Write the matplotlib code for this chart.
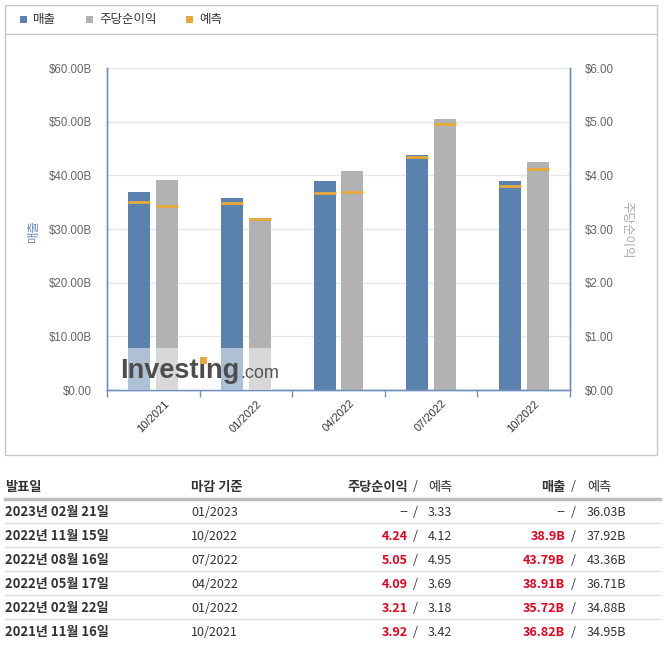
import numpy as np
import matplotlib.pyplot as plt
from matplotlib.lines import Line2D
from matplotlib.patches import Rectangle

plt.rcParams['font.family'] = ['Liberation Sans', 'Noto Sans CJK KR', 'DejaVu Sans']

# chart data
quarters = ['10/2021', '01/2022', '04/2022', '07/2022', '10/2022']
revenue = [36.82, 35.72, 38.91, 43.79, 38.90]      # B$
revenue_fc = [34.95, 34.88, 36.71, 43.36, 37.92]
eps = [3.92, 3.21, 4.09, 5.05, 4.24]
eps_fc = [3.42, 3.18, 3.69, 4.95, 4.12]

# table data
release = ['2023년 02월 21일', '2022년 11월 15일', '2022년 08월 16일',
           '2022년 05월 17일', '2022년 02월 22일', '2021년 11월 16일']
period = ['01/2023', '10/2022', '07/2022', '04/2022', '01/2022', '10/2021']
eps_tbl = ['--', '4.24', '5.05', '4.09', '3.21', '3.92']
eps_fc_tbl = ['3.33', '4.12', '4.95', '3.69', '3.18', '3.42']
rev_tbl = ['--', '38.9B', '43.79B', '38.91B', '35.72B', '36.82B']
rev_fc_tbl = ['36.03B', '37.92B', '43.36B', '36.71B', '34.88B', '34.95B']

BLUE = '#5b82ae'
GRAY = '#b2b2b2'
ORANGE = '#e9a93a'
AXC = '#6f8fbf'
TXT = '#333333'
RED = '#e8001c'

W, H = 664, 649
fig = plt.figure(figsize=(W / 100, H / 100), dpi=100)


def fx(x):
    return x / W


def fy(y):
    return 1 - y / H


def hline(x0, x1, y, color, lw=1.0):
    fig.add_artist(Line2D([fx(x0), fx(x1)], [fy(y), fy(y)], color=color, lw=lw,
                          transform=fig.transFigure))


# chart box
fig.add_artist(Rectangle((fx(5), fy(455)), (657 - 5) / W, (455 - 5) / H, fill=False,
                         edgecolor='#c8c8c8', lw=1, transform=fig.transFigure))
hline(5, 657, 34, '#c8c8c8')

# legend
for x0, c, lab in [(20, BLUE, '매출'), (86, GRAY, '주당순이익'), (186, ORANGE, '예측')]:
    fig.add_artist(Rectangle((fx(x0), fy(23)), 7 / W, 7 / H, color=c, lw=0,
                             transform=fig.transFigure))
    fig.text(fx(x0 + 13), fy(19.5), lab, fontsize=9, color=TXT, va='center', ha='left',
             family=['Noto Sans CJK KR'])

ax = fig.add_axes([fx(107), fy(390), (570 - 107) / W, (390 - 68) / H])
ax2 = ax.twinx()

x = np.arange(len(quarters))
off, bw = 0.151, 0.2375
ax.bar(x - off, revenue, bw, color=BLUE, zorder=2)
ax.hlines(revenue_fc, x - off - bw / 2, x - off + bw / 2, color=ORANGE, lw=2, zorder=3)
ax2.bar(x + off, eps, bw, color=GRAY, zorder=2)
ax2.hlines(eps_fc, x + off - bw / 2, x + off + bw / 2, color=ORANGE, lw=2, zorder=3)

ax.set_xlim(-0.5, len(quarters) - 0.5)
ax.set_ylim(0, 60)
ax2.set_ylim(0, 6)
ax.set_yticks(range(0, 70, 10))
ax.set_yticklabels(['\\$0.00'] + ['\\$%.2fB' % v for v in range(10, 70, 10)])
ax2.set_yticks(range(0, 7))
ax2.set_yticklabels(['\\$%.2f' % v for v in range(0, 7)])
ax.set_xticks(x)
ax.set_xticklabels(quarters, rotation=45, ha='center', va='top', fontsize=8, color=TXT)
ax.set_xticks(np.arange(-0.5, len(quarters), 1), minor=True)

ax.yaxis.grid(True, color='#e6e6e6', lw=1)
ax.set_axisbelow(True)
ax.tick_params(axis='x', which='major', length=0, pad=6)
ax.tick_params(axis='x', which='minor', length=5, width=1, color=AXC)
ax.tick_params(axis='y', length=0, pad=11, labelsize=8.3, labelcolor='#666666')
ax2.tick_params(axis='y', length=0, pad=11, labelsize=8.3, labelcolor='#666666')

for a in (ax, ax2):
    a.spines['top'].set_visible(False)
    for s in ('left', 'right', 'bottom'):
        a.spines[s].set_color(AXC)
        a.spines[s].set_linewidth(1)

fig.text(fx(33), fy(230), '매출', rotation=90, color='#6e8dbe', fontsize=9,
         ha='center', va='center', family=['Noto Sans CJK KR'])
fig.text(fx(627), fy(230), '주당순이익', rotation=270, color='#aaaaaa', fontsize=9,
         ha='center', va='center', family=['Noto Sans CJK KR'])

# watermark
fig.add_artist(Rectangle((fx(118), fy(389.5)), (272 - 118) / W, (389.5 - 348) / H,
                         color='white', alpha=0.5, lw=0, zorder=5, transform=fig.transFigure))
fig.text(fx(120), fy(378), 'Investing', fontsize=19.5, weight='bold', color='#4d4d4d',
         ha='left', va='baseline', zorder=6)
fig.text(fx(240), fy(378), '.com', fontsize=13, color='#555555',
         ha='left', va='baseline', zorder=6)
fig.add_artist(Rectangle((fx(200), fy(364)), 7 / W, 7 / H, color=ORANGE, lw=0,
                         zorder=7, transform=fig.transFigure))

# table
kr = ['Noto Sans CJK KR']
hy = 487
fig.text(fx(5), fy(hy), '발표일', fontsize=9.5, weight='bold', color=TXT, va='center', family=kr)
fig.text(fx(191), fy(hy), '마감 기준', fontsize=9.5, weight='bold', color=TXT, va='center', family=kr)
fig.text(fx(408), fy(hy), '주당순이익', fontsize=9.5, weight='bold', color=TXT, va='center',
         ha='right', family=kr)
fig.text(fx(415), fy(hy), '/', fontsize=9, color=TXT, va='center', ha='center', family=kr)
fig.text(fx(428), fy(hy), '예측', fontsize=9.5, color=TXT, va='center', family=kr)
fig.text(fx(565), fy(hy), '매출', fontsize=9.5, weight='bold', color=TXT, va='center',
         ha='right', family=kr)
fig.text(fx(573), fy(hy), '/', fontsize=9, color=TXT, va='center', ha='center', family=kr)
fig.text(fx(587), fy(hy), '예측', fontsize=9.5, color=TXT, va='center', family=kr)
hline(5, 660, 499, '#bdbdbd', lw=2.5)

for i in range(len(release)):
    y = 512 + 24 * i
    fig.text(fx(5), fy(y), release[i], fontsize=9.4, weight='bold', color=TXT, va='center', family=kr)
    fig.text(fx(191), fy(y), period[i], fontsize=9, color=TXT, va='center', family=kr)
    act = eps_tbl[i] != '--'
    fig.text(fx(408), fy(y), eps_tbl[i], fontsize=9, weight='bold' if act else 'normal',
             color=RED if act else TXT, va='center', ha='right',
             family=kr if act else ['DejaVu Sans'])
    fig.text(fx(415), fy(y), '/', fontsize=9, color=TXT, va='center', ha='center', family=kr)
    fig.text(fx(428), fy(y), eps_fc_tbl[i], fontsize=9, color=TXT, va='center', family=kr)
    act = rev_tbl[i] != '--'
    fig.text(fx(565), fy(y), rev_tbl[i], fontsize=9, weight='bold' if act else 'normal',
             color=RED if act else TXT, va='center', ha='right',
             family=kr if act else ['DejaVu Sans'])
    fig.text(fx(573), fy(y), '/', fontsize=9, color=TXT, va='center', ha='center', family=kr)
    fig.text(fx(587), fy(y), rev_fc_tbl[i], fontsize=9, color=TXT, va='center', family=kr)
    if i < len(release) - 1:
        hline(5, 660, y + 11, '#dddddd', lw=1)

fig.savefig('out.png', dpi=100)
